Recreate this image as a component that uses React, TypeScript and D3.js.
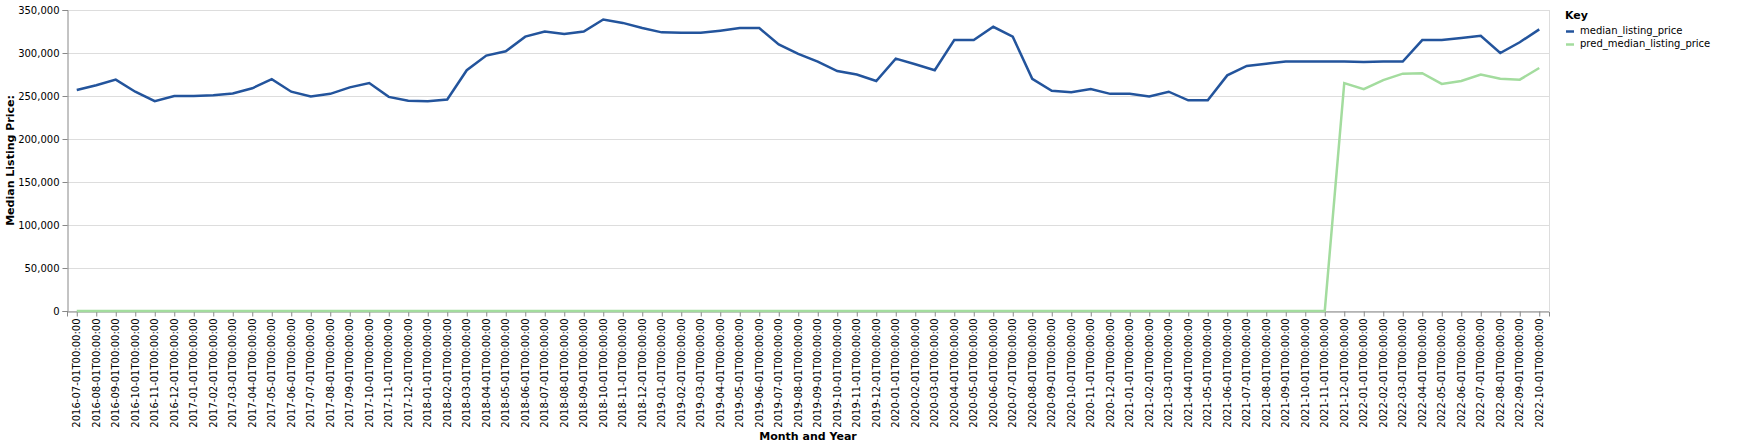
import React, { useEffect, useRef } from 'react';
import * as d3 from 'd3';

const years = [2016, 2017, 2018, 2019, 2020, 2021, 2022];

const months: string[] = [];
years.forEach(y => {
  for (let m = 1; m <= 12; m++) {
    if (y === 2016 && m < 7) continue;
    if (y === 2022 && m > 10) continue;
    months.push(`${y}-${String(m).padStart(2, '0')}-01T00:00:00`);
  }
});

const medianListingPrice = [
  257000, 262500, 269000, 255000, 244000, 249900,
  250000, 251000, 253000, 259000, 269500, 255000, 249500, 252500, 260000, 265000, 249000, 244500,
  244000, 246000, 280000, 297000, 302000, 319000, 325000, 322000, 325000, 339000, 335000, 329000,
  324000, 323500, 323500, 326000, 329000, 329000, 310000, 299000, 290000, 279000, 275000, 267500,
  293500, 287000, 280000, 315000, 315000, 330500, 319000, 270000, 256000, 254500, 258000, 252500,
  252500, 249500, 255000, 245000, 245000, 274000, 285000, 287500, 290000, 290000, 290000, 290000,
  289500, 290000, 290000, 315000, 315000, 317500, 320000, 300000, 312500, 327500,
];

const predTail = [265000, 258000, 268500, 276000, 276500, 264000, 267500, 275000, 270000, 269000, 282500];
const predMedianListingPrice = months.map((_, i) =>
  i < months.length - predTail.length ? 0 : predTail[i - (months.length - predTail.length)]);

const seriesNames = ['median_listing_price', 'pred_median_listing_price'];
const seriesColors = ['#23549c', '#a3dc9e'];
const yTicks = d3.range(0, 350001, 50000);

export default function App() {
  const ref = useRef<SVGSVGElement>(null);

  useEffect(() => {
    const svg = d3.select(ref.current);
    svg.selectAll('*').remove();
    const left = 67, top = 10, right = 1549, bottom = 311;
    const x = d3.scalePoint<string>().domain(months).range([left, right]).padding(0.5);
    const y = d3.scaleLinear().domain([0, 350000]).range([bottom, top]);
    const font = 'DejaVu Sans, sans-serif';

    const g = svg.append('g');
    g.selectAll('line.grid').data(yTicks).join('line')
      .attr('x1', left).attr('x2', right)
      .attr('y1', d => y(d) + 0.5).attr('y2', d => y(d) + 0.5)
      .attr('stroke', '#ddd');
    g.append('line').attr('x1', right + 0.5).attr('x2', right + 0.5).attr('y1', top).attr('y2', bottom).attr('stroke', '#ddd');

    const xa = g.append('g').attr('transform', `translate(0,${bottom + 0.5})`)
      .call(d3.axisBottom(x).tickSizeOuter(0).tickSize(5));
    xa.selectAll('text').attr('transform', 'rotate(-90)').attr('text-anchor', 'end')
      .attr('x', -7).attr('y', 0).attr('dy', '0.32em')
      .style('font-family', font).style('font-size', '10px').attr('fill', '#000');
    xa.select('.domain').attr('stroke', '#888');
    xa.selectAll('.tick line').attr('stroke', '#888');

    const ya = g.append('g').attr('transform', `translate(${left + 0.5},0)`)
      .call(d3.axisLeft(y).tickValues(yTicks).tickFormat(d3.format(',')).tickSizeOuter(0).tickSize(5));
    ya.selectAll('text').style('font-family', font).style('font-size', '10px').attr('fill', '#000');
    ya.select('.domain').attr('stroke', '#888');
    ya.selectAll('.tick line').attr('stroke', '#888');

    const line = d3.line<number>().x((_, i) => x(months[i])!).y(d => y(d));
    [medianListingPrice, predMedianListingPrice].forEach((vals, k) => {
      g.append('path').datum(vals).attr('d', line).attr('fill', 'none')
        .attr('stroke', seriesColors[k]).attr('stroke-width', 2.5);
    });

    g.append('text').attr('transform', `translate(14,${(top + bottom) / 2}) rotate(-90)`)
      .attr('text-anchor', 'middle').style('font-family', font).style('font-size', '11px')
      .style('font-weight', 'bold').text('Median Listing Price:');
    g.append('text').attr('x', (left + right) / 2).attr('y', 440).attr('text-anchor', 'middle')
      .style('font-family', font).style('font-size', '11px').style('font-weight', 'bold').text('Month and Year');

    const lg = g.append('g').attr('transform', 'translate(1565,0)');
    lg.append('text').attr('x', 0).attr('y', 19).style('font-family', font).style('font-size', '11px')
      .style('font-weight', 'bold').text('Key');
    seriesNames.forEach((n, i) => {
      lg.append('line').attr('x1', 1).attr('x2', 9).attr('y1', 31.5 + i * 13).attr('y2', 31.5 + i * 13)
        .attr('stroke', seriesColors[i]).attr('stroke-width', 2.5);
      lg.append('text').attr('x', 15).attr('y', 31 + i * 13).attr('dy', '0.32em')
        .style('font-family', font).style('font-size', '10px').text(n);
    });
  }, []);

  return <svg ref={ref} width={1759} height={447} style={{ position: 'absolute', left: 0, top: 0 }} />;
}
